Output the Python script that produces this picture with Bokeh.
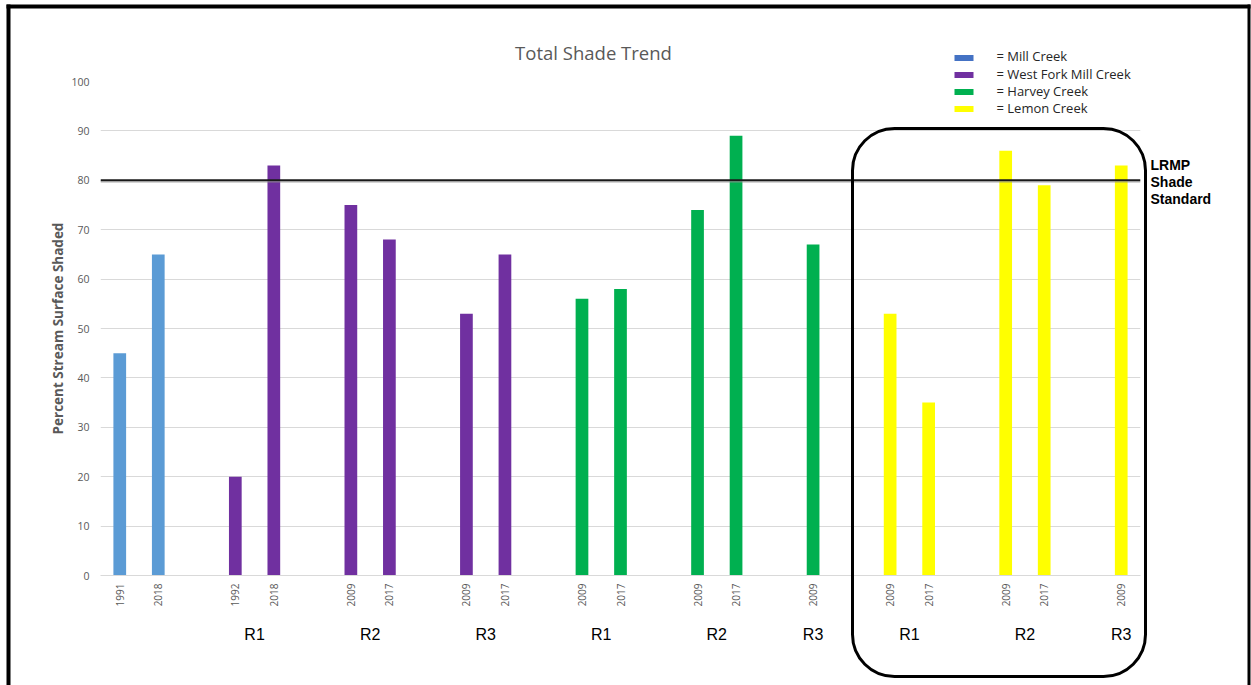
import math
from bokeh.plotting import figure
from bokeh.models import (Range1d, FixedTicker, LinearAxis, Span, Label, BoxAnnotation,
                          ColumnDataSource, GridBox, Column)
from bokeh.core.properties import value
from bokeh.embed import file_html
from bokeh.resources import INLINE

# ---------------- data ----------------
creeks = ["Mill Creek", "West Fork Mill Creek", "Harvey Creek", "Lemon Creek"]
legend_labels = ["= Mill Creek", "= West Fork Mill Creek", "= Harvey Creek", "= Lemon Creek"]

group_creek = ["Mill Creek",
               "West Fork Mill Creek", "West Fork Mill Creek", "West Fork Mill Creek",
               "Harvey Creek", "Harvey Creek", "Harvey Creek",
               "Lemon Creek", "Lemon Creek", "Lemon Creek"]
group_reach = ["", "R1", "R2", "R3", "R1", "R2", "R3", "R1", "R2", "R3"]
group_years = [["1991", "2018"],
               ["1992", "2018"], ["2009", "2017"], ["2009", "2017"],
               ["2009", "2017"], ["2009", "2017"], ["2009"],
               ["2009", "2017"], ["2009", "2017"], ["2009"]]
group_values = [[45, 65],
                [20, 83], [75, 68], [53, 65],
                [56, 58], [74, 89], [67],
                [53, 35], [86, 79], [83]]
y_ticks = list(range(0, 101, 10))
shade_standard = 80
standard_label = ["LRMP", "Shade", "Standard"]
title_text = "Total Shade Trend"

# ---------------- styles ----------------
bar_colors = {"Mill Creek": "#5B9BD5", "West Fork Mill Creek": "#7030A0",
              "Harvey Creek": "#00B050", "Lemon Creek": "#FFFF00"}
legend_colors = ["#4472C4", "#7030A0", "#00B050", "#FFFF00"]
GRAY = "#595959"
W, H = 1251, 685

# ---------------- layout of slots ----------------
slot = 0
bars = {c: {"x": [], "top": []} for c in creeks}
tick_pos, tick_lab, reach_pos, reach_lab = [], [], [], []
for creek, reach, yrs, vals in zip(group_creek, group_reach, group_years, group_values):
    xs = []
    for yr, v in zip(yrs, vals):
        x = 2 * slot
        slot += 1
        xs.append(x)
        bars[creek]["x"].append(x)
        bars[creek]["top"].append(v)
        tick_pos.append(x)
        tick_lab.append(yr)
    slot += 1
    if reach:
        reach_pos.append(int(sum(xs) / len(xs)))
        reach_lab.append(reach)

# ================= main chart =================
p = figure(width=W, height=H, output_backend="svg", toolbar_location=None,
           x_range=Range1d(-1, 2 * slot - 3), y_range=Range1d(0, 100),
           min_border_left=100, min_border_right=111, min_border_top=81, min_border_bottom=110)
p.outline_line_color = None
p.background_fill_color = "white"
p.border_fill_color = "white"

p.yaxis.ticker = FixedTicker(ticks=y_ticks)
p.yaxis.axis_line_color = None
p.yaxis.major_tick_line_color = None
p.yaxis.minor_tick_line_color = None
p.yaxis.major_tick_out = 0
p.yaxis.major_label_standoff = 11
p.yaxis.major_label_text_font = "Open Sans"
p.yaxis.major_label_text_font_size = "10.5px"
p.yaxis.major_label_text_color = GRAY
p.yaxis.axis_label = "Percent Stream Surface Shaded"
p.yaxis.axis_label_text_font = "Open Sans"
p.yaxis.axis_label_text_font_style = "bold"
p.yaxis.axis_label_text_font_size = "13.5px"
p.yaxis.axis_label_text_color = GRAY
p.yaxis.axis_label_standoff = 1

p.xaxis.ticker = FixedTicker(ticks=tick_pos)
p.xaxis.major_label_overrides = dict(zip(tick_pos, tick_lab))
p.xaxis.major_label_orientation = math.pi / 2
p.xaxis.major_tick_out = 0
p.xaxis.major_tick_line_color = None
p.xaxis.minor_tick_line_color = None
p.xaxis.axis_line_color = "#d9d9d9"
p.xaxis.major_label_standoff = 8
p.xaxis.major_label_text_font = "Open Sans"
p.xaxis.major_label_text_font_size = "10px"
p.xaxis.major_label_text_color = GRAY

reach_axis = LinearAxis(ticker=FixedTicker(ticks=reach_pos),
                        major_label_overrides=dict(zip(reach_pos, reach_lab)),
                        axis_line_color=None, major_tick_line_color=None,
                        minor_tick_line_color=None, major_tick_out=0,
                        major_label_standoff=16,
                        major_label_text_font="Liberation Sans",
                        major_label_text_font_size="16px",
                        major_label_text_color="black")
p.add_layout(reach_axis, "below")

p.xgrid.visible = False
p.ygrid.grid_line_color = "#d9d9d9"

for c in creeks:
    p.vbar(x="x", top="top", width=0.66, source=ColumnDataSource(bars[c]),
           fill_color=bar_colors[c], line_color=None)

p.add_layout(Span(location=shade_standard, dimension="width",
                  line_color="#1a1a1a", line_width=2))
p.add_layout(Span(location=shade_standard - 0.32, dimension="width",
                  line_color="#8c8c8c", line_width=1))

# ================= overlay (decorations, pixel space) =================
ov = figure(width=W, height=H, output_backend="svg", toolbar_location=None,
            x_range=Range1d(0, W), y_range=Range1d(0, H),
            x_axis_type=None, y_axis_type=None,
            min_border_left=0, min_border_right=0, min_border_top=0, min_border_bottom=0)
ov.background_fill_color = None
ov.border_fill_color = None
ov.outline_line_color = None

ov.add_layout(Label(x=593, y=H - 52, text=title_text, text_font="Open Sans",
                    text_font_size="18.5px", text_color=GRAY, text_align="center",
                    text_baseline="middle"))

rows = list(range(len(creeks)))
ov.rect(x=963.5, y=[H - 57.5 - 17 * i for i in rows], width=19, height=6,
        fill_color=legend_colors, line_color=None)
ov.text(x=996, y=[H - 55.7 - 17.4 * i for i in rows], text=legend_labels,
        text_font=value("Open Sans"), text_font_size=value("13px"),
        text_color="#262626", text_baseline="middle", text_align="left")

for i, t in enumerate(standard_label):
    ov.add_layout(Label(x=1150, y=H - 164 - 17 * i, text=t, text_font="Liberation Sans",
                        text_font_style="bold", text_font_size="14px",
                        text_color="black", text_baseline="middle"))

ov.add_layout(BoxAnnotation(left=852, right=1145, top=H - 128, bottom=H - 676,
                            fill_alpha=0, line_color="black", line_alpha=1, line_width=3,
                            border_radius=42))

for l, r, t, b in [(6, 1250, 4, 8), (6, 10, 4, H + 5), (1247, 1250, 4, H + 5)]:
    ov.add_layout(BoxAnnotation(left=l, right=r, top=H - t, bottom=H - b,
                                fill_color="black", fill_alpha=1, line_color=None))

layout = GridBox(children=[(p, 0, 0), (Column(children=[ov]), 0, 0)])

open("out.html", "w").write(file_html(layout, INLINE))
